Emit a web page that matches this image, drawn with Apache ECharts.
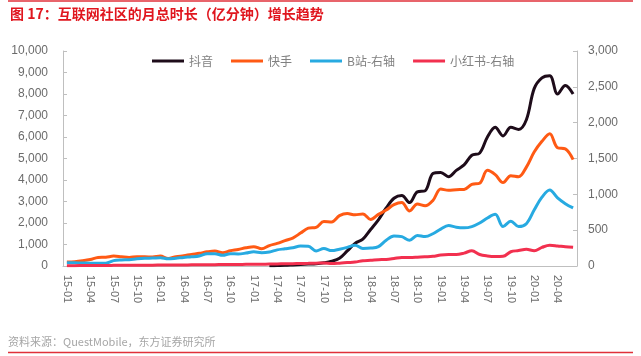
<!DOCTYPE html>
<html>
<head>
<meta charset="utf-8">
<script src="https://cdn.jsdelivr.net/npm/echarts@6/dist/echarts.min.js"></script>
<style>
html,body{margin:0;padding:0;background:#fff;}
#chart{width:641px;height:356px;}
</style>
</head>
<body>
<div id="chart"></div>
<script>
const titleText = '图 17：互联网社区的月总时长（亿分钟）增长趋势';
const sourceText = '资料来源：QuestMobile，东方证券研究所';
const seriesNames = ['抖音', '快手', 'B站-右轴', '小红书-右轴'];

const months = [
  '15-01','15-02','15-03','15-04','15-05','15-06','15-07','15-08','15-09','15-10','15-11','15-12',
  '16-01','16-02','16-03','16-04','16-05','16-06','16-07','16-08','16-09','16-10','16-11','16-12',
  '17-01','17-02','17-03','17-04','17-05','17-06','17-07','17-08','17-09','17-10','17-11','17-12',
  '18-01','18-02','18-03','18-04','18-05','18-06','18-07','18-08','18-09','18-10','18-11','18-12',
  '19-01','19-02','19-03','19-04','19-05','19-06','19-07','19-08','19-09','19-10','19-11','19-12',
  '20-01','20-02','20-03','20-04','20-05','20-06'
];

// 抖音 (left axis)
const douyin = [
  null,null,null,null,null,null,null,null,null,null,null,null,
  null,null,null,null,null,null,null,null,null,null,null,null,
  null,null,10,20,30,50,70,90,110,150,220,360,
  700,1050,1250,1700,2150,2700,3150,3280,2950,3450,3500,4300,
  4350,4150,4450,4700,5150,5250,6000,6450,6050,6450,6350,6800,
  8250,8750,8850,8000,8400,8000
];

// 快手 (left axis)
const kuaishou = [
  190,200,240,300,400,410,460,430,400,430,430,415,
  460,350,430,480,540,590,660,700,620,710,770,850,
  900,800,950,1050,1180,1300,1530,1760,1800,2070,2050,2340,
  2440,2380,2420,2160,2400,2600,2850,2950,2560,2880,2800,3050,
  3580,3520,3550,3560,3800,3850,4450,4250,3880,4200,4150,4600,
  5300,5800,6150,5500,5450,4950
];

// B站 (right axis)
const bilibili = [
  46,45,42,40,38,40,75,85,88,100,108,110,
  115,100,108,120,128,140,170,172,150,172,168,180,
  198,185,195,225,240,255,278,275,210,245,215,235,
  260,290,245,250,270,360,420,410,360,425,410,450,
  515,565,540,532,550,600,670,722,550,625,550,590,
  780,960,1060,950,870,810
];

// 小红书 (right axis)
const xiaohongshu = [
  5,5,6,7,8,8,9,10,10,11,12,12,
  13,14,14,15,16,17,18,19,20,21,22,23,
  24,25,27,29,31,33,35,37,40,43,35,40,
  48,55,74,80,88,92,105,120,118,122,128,135,
  153,160,160,180,213,160,140,132,135,199,215,232,
  213,260,290,280,268,260
];

const leftMax = 10000, leftStep = 1000;
const rightMax = 3000, rightStep = 500;
const colors = ['#1e0c1a', '#ff5a14', '#27aae1', '#f2304f'];

const fmt = v => String(v).replace(/\B(?=(\d{3})+(?!\d))/g, ',');
const axisGray = '#bfbfbf';
const labelGray = '#6b6b6b';
const font = '"Liberation Sans", "Noto Sans CJK SC", sans-serif';

const chart = echarts.init(document.getElementById('chart'), null, {renderer: 'canvas'});
const dataArr = [douyin, kuaishou, bilibili, xiaohongshu];

chart.setOption({
  animation: false,
  backgroundColor: '#fff',
  textStyle: {fontFamily: font},
  graphic: [
    {type: 'line', shape: {x1: 8, y1: 1, x2: 633, y2: 1}, style: {stroke: '#e0303a', lineWidth: 1.5}},
    {type: 'text', left: 10, top: 7, style: {text: titleText, fill: '#e0161e', font: 'bold 14px "Noto Sans CJK SC", sans-serif'}},
    {type: 'text', left: 8, top: 336, style: {text: sourceText, fill: '#a6a6a6', font: '11px "Noto Sans CJK SC", sans-serif'}},
    {type: 'line', shape: {x1: 8, y1: 352.5, x2: 633, y2: 352.5}, style: {stroke: '#e0303a', lineWidth: 1.5}}
  ],
  legend: {
    left: 147, top: 50,
    icon: 'rect', itemWidth: 32, itemHeight: 3, itemGap: 18,
    textStyle: {color: '#808080', fontSize: 12, fontFamily: '"Noto Sans CJK SC", sans-serif'},
    data: seriesNames
  },
  grid: {left: 63, right: 64, top: 51, bottom: 90, containLabel: false},
  xAxis: {
    type: 'category', data: months, boundaryGap: true,
    axisLine: {lineStyle: {color: axisGray}},
    axisTick: {inside: true, interval: 0, length: 4, lineStyle: {color: axisGray}},
    axisLabel: {interval: 2, rotate: -90, fontSize: 11, color: labelGray, margin: 9}
  },
  yAxis: [
    {
      type: 'value', min: 0, max: leftMax, interval: leftStep,
      axisLine: {show: true, lineStyle: {color: axisGray}},
      axisTick: {show: true, inside: true, length: 4, lineStyle: {color: axisGray}},
      splitLine: {show: false},
      axisLabel: {fontSize: 12, color: labelGray, margin: 15, formatter: fmt}
    },
    {
      type: 'value', min: 0, max: rightMax, interval: rightStep,
      axisLine: {show: true, lineStyle: {color: axisGray}},
      axisTick: {show: true, inside: true, length: 4, lineStyle: {color: axisGray}},
      splitLine: {show: false},
      axisLabel: {fontSize: 12, color: labelGray, margin: 11, formatter: fmt}
    }
  ],
  series: seriesNames.map((n, k) => ({
    name: n, type: 'line', yAxisIndex: k < 2 ? 0 : 1,
    data: dataArr[k], smooth: 0.35, showSymbol: false, connectNulls: false,
    lineStyle: {width: 3, color: colors[k]}, itemStyle: {color: colors[k]}
  }))
});
</script>
</body>
</html>
